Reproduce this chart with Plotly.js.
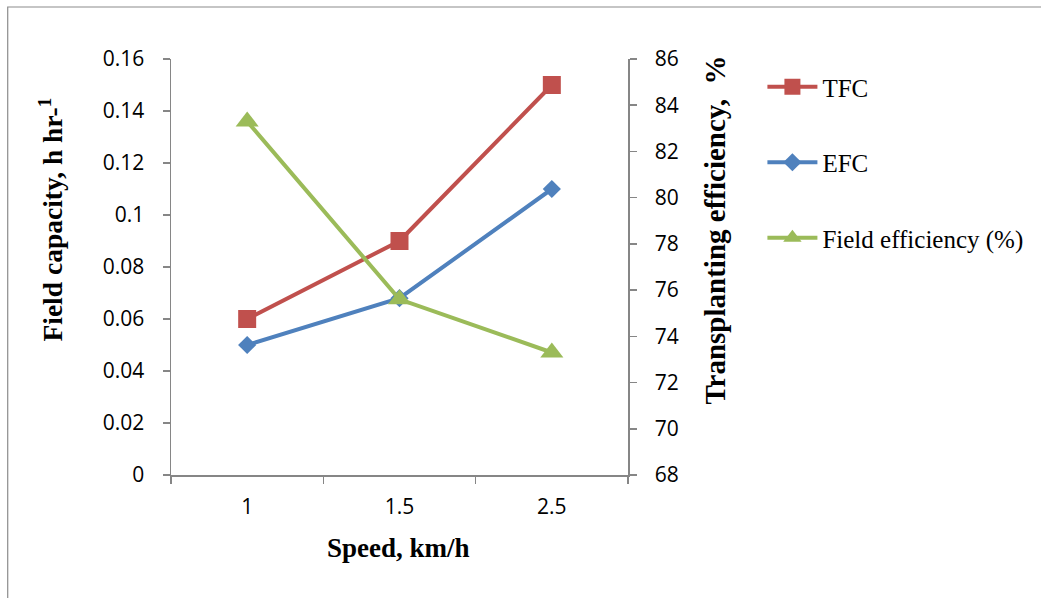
<!DOCTYPE html>
<html>
<head>
<meta charset="utf-8">
<script src="https://cdn.plot.ly/plotly-3.0.1.min.js"></script>
<style>
html,body{margin:0;padding:0;background:#fff;}
#chart{width:1041px;height:598px;}
</style>
</head>
<body>
<div id="chart"></div>
<script>
// Data
const speeds = ["1", "1.5", "2.5"];
const tfc = [0.06, 0.09, 0.15];
const efc = [0.05, 0.068, 0.11];
const fieldEff = [83.3, 75.6, 73.3];
const leftTickVals = [0, 0.02, 0.04, 0.06, 0.08, 0.1, 0.12, 0.14, 0.16];
const leftTickText = ["0", "0.02", "0.04", "0.06", "0.08", "0.1", "0.12", "0.14", "0.16"];
const rightTickVals = [68, 70, 72, 74, 76, 78, 80, 82, 84, 86];
const rightTickText = ["68", "70", "72", "74", "76", "78", "80", "82", "84", "86"];

const RED = "#C0504D", BLUE = "#4F81BD", GREEN = "#9BBB59";
const AXC = "#868686";
const tickFont = {family: "Open Sans, Liberation Sans, sans-serif", size: 21, color: "#000"};
const serif = "Liberation Serif, Times New Roman, serif";

const traces = [
  {x: speeds, y: tfc, name: "TFC", type: "scatter", mode: "lines+markers",
   legendgroup: "a",
   line: {color: RED, width: 4}, marker: {symbol: "square", size: 18, color: RED}},
  {x: speeds, y: efc, name: "EFC", type: "scatter", mode: "lines+markers",
   legendgroup: "b",
   line: {color: BLUE, width: 4}, marker: {symbol: "diamond", size: 14, color: BLUE}},
  {x: speeds, y: fieldEff, name: "Field efficiency (%)", type: "scatter", mode: "lines+markers",
   legendgroup: "c", yaxis: "y2",
   line: {color: GREEN, width: 4}, marker: {symbol: "triangle-up", size: 20, color: GREEN}}
];

const L = 171, R = 630, T = 59, B = 475;
const W = R - L, H = B - T;
const px = v => (v - L) / W;
const py = v => (B - v) / H;

const layout = {
  width: 1041, height: 598,
  margin: {l: L, r: 1041 - R, t: T, b: 598 - B},
  paper_bgcolor: "#fff", plot_bgcolor: "#fff",
  showlegend: true,
  legend: {
    x: px(765), y: py(64), xanchor: "left", yanchor: "top",
    font: {family: serif, size: 25, color: "#000"},
    tracegroupgap: 40, itemwidth: 50, bgcolor: "rgba(0,0,0,0)"
  },
  xaxis: {
    type: "category", range: [-0.5, 2.5],
    showline: true, linecolor: AXC, linewidth: 1.5,
    ticks: "outside", tickson: "boundaries", ticklen: 7, tickcolor: AXC, tickwidth: 1.5,
    showgrid: false, zeroline: false, tickfont: tickFont, ticklabelstandoff: 12
  },
  yaxis: {
    range: [0, 0.16], tickvals: leftTickVals, ticktext: leftTickText,
    showline: true, linecolor: AXC, linewidth: 1.5,
    ticks: "outside", ticklen: 7, tickcolor: AXC, tickwidth: 1.5,
    showgrid: false, zeroline: false, tickfont: tickFont, ticklabelstandoff: 14
  },
  yaxis2: {
    range: [68, 86], tickvals: rightTickVals, ticktext: rightTickText,
    overlaying: "y", side: "right",
    showline: true, linecolor: AXC, linewidth: 1.5,
    ticks: "outside", ticklen: 7, tickcolor: AXC, tickwidth: 1.5,
    showgrid: false, zeroline: false, tickfont: tickFont, ticklabelstandoff: 14
  },
  annotations: [
    {text: "<b>Field capacity, h hr-<sup>1</sup></b>", xref: "paper", yref: "paper",
     x: px(51), y: py(220), xanchor: "center", yanchor: "middle", textangle: -90,
     showarrow: false, font: {family: serif, size: 27.5, color: "#000"}},
    {text: "<b>Transplanting efficiency,  %</b>", xref: "paper", yref: "paper",
     x: px(717), y: py(230), xanchor: "center", yanchor: "middle", textangle: -90,
     showarrow: false, font: {family: serif, size: 29, color: "#000"}},
    {text: "<b>Speed, km/h</b>", xref: "paper", yref: "paper",
     x: px(399), y: py(548), xanchor: "center", yanchor: "middle",
     showarrow: false, font: {family: serif, size: 27, color: "#000"}}
  ],
  shapes: [
    {type: "rect", xref: "paper", yref: "paper",
     x0: px(7), x1: px(1100), y0: py(650), y1: py(7),
     line: {color: "#8c8c8c", width: 1.2}, fillcolor: "rgba(0,0,0,0)", layer: "below"}
  ]
};

Plotly.newPlot("chart", traces, layout, {displayModeBar: false, staticPlot: true});
</script>
</body>
</html>
